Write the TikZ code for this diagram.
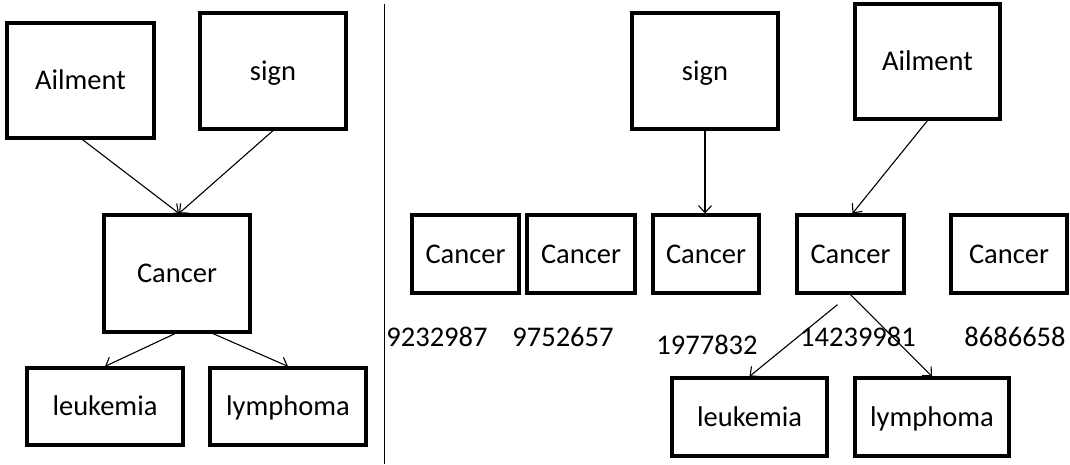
\documentclass[tikz,border=0pt]{standalone}
\usepackage{fontspec}
\setmainfont{Carlito}
\usetikzlibrary{arrows.meta,calc}

\tikzset{
  box/.style={draw, line width=3.2pt, inner sep=0pt, text height=20pt, text depth=2pt, font=\fontsize{28.5}{34}\selectfont},
  num/.style={inner sep=0pt, font=\fontsize{28.5}{34}\selectfont},
  link/.style={line width=1.1pt, -{Straight Barb[length=7pt,width=13pt]}}
}

\begin{document}
\begin{tikzpicture}[x=1pt, y=-1pt]
  \useasboundingbox (0,0) rectangle (1070,464);

  % left: one Cancer node
  \node[box, minimum width=147pt, minimum height=115pt] (ailL) at (80.5,80.5) {Ailment};
  \node[box, minimum width=146pt, minimum height=116pt] (signL) at (273,71) {sign};
  \node[box, minimum width=146pt, minimum height=117pt] (canL) at (177,273.5) {Cancer};
  \node[box, minimum width=156pt, minimum height=77pt] (leukL) at (105,406.5) {leukemia};
  \node[box, minimum width=156pt, minimum height=77pt] (lymphL) at (288,406.5) {lymphoma};

  \draw[link] ([xshift=2pt]ailL.south) -- ([xshift=2pt]canL.north);
  \draw[link] (signL.south) -- ([xshift=2pt]canL.north);
  \draw[link] ([xshift=-2pt]canL.south) -- (leukL.north);
  \draw[link] ([xshift=36pt]canL.south) -- (lymphL.north);

  % divider
  \coordinate (divtop) at (384.5,4);
  \coordinate (divbot) at (384.5,464);
  \draw[line width=1.3pt] (divtop) -- (divbot);

  % right: several Cancer nodes
  \node[box, minimum width=146pt, minimum height=116pt] (signR) at (705,71) {sign};
  \node[box, minimum width=145pt, minimum height=115pt] (ailR) at (927.5,61.5) {Ailment};
  \node[box, minimum width=107pt, minimum height=78pt] (can1) at (465.5,254) {Cancer};
  \node[box, minimum width=108pt, minimum height=78pt] (can2) at (581,254) {Cancer};
  \node[box, minimum width=106pt, minimum height=78pt] (can3) at (706,254) {Cancer};
  \node[box, minimum width=107pt, minimum height=78pt] (can4) at (850.5,254) {Cancer};
  \node[box, minimum width=116pt, minimum height=78pt] (can5) at (1009,254) {Cancer};
  \node[box, minimum width=155pt, minimum height=78pt] (leukR) at (749.5,417) {leukemia};
  \node[box, minimum width=154pt, minimum height=78pt] (lymphR) at (932,417) {lymphoma};

  \node[num] (id1) at (437,337) {9232987};
  \node[num] (id2) at (563,337) {9752657};
  \node[num] (id3) at (707,345) {1977832};
  \node[num] (id4) at (858,337) {14239981};
  \node[num] (id5) at (1015,337) {8686658};

  \draw[link] (signR.south) -- (signR.south |- can3.north);
  \draw[link] (ailR.south) -- ([xshift=2pt]can4.north);
  \draw[link] ([xshift=-13pt,yshift=-10pt]can4.south) -- (leukR.north);
  \draw[link] (can4.south) -- (lymphR.north);
\end{tikzpicture}
\end{document}
